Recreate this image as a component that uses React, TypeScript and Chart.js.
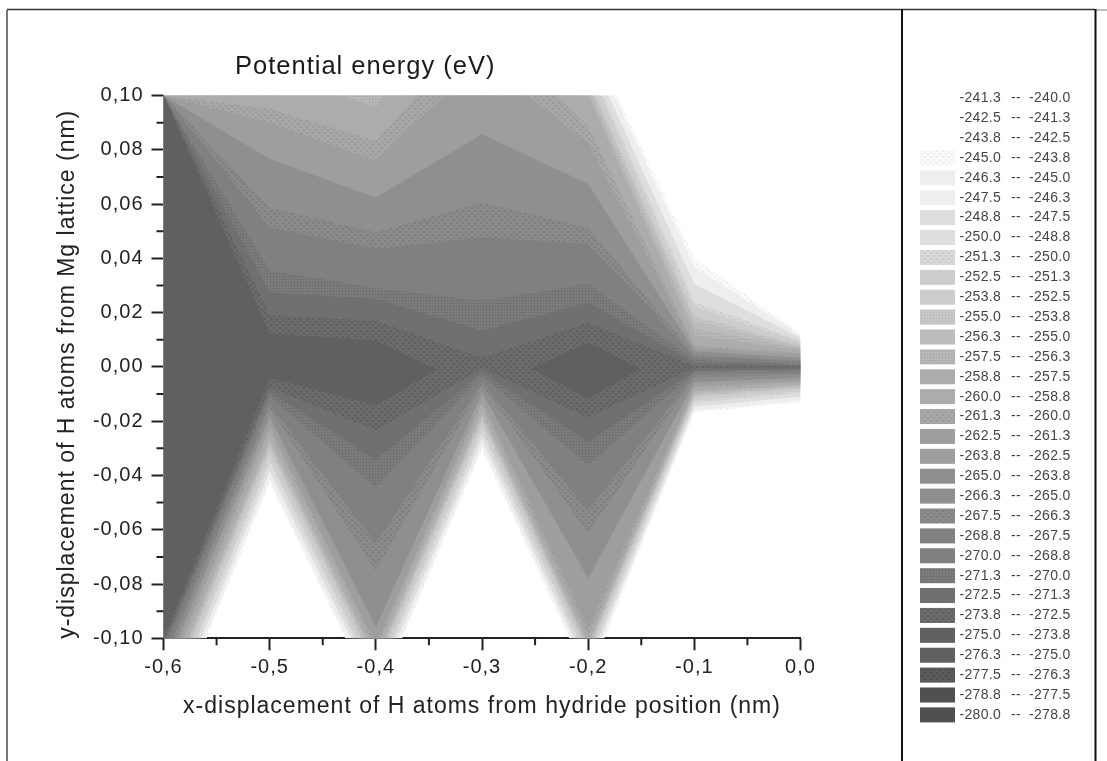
import React, { useEffect, useRef } from "react";
import { Chart, registerables } from "chart.js";

Chart.register(...registerables);

const xColumns = [-0.6, -0.5, -0.4, -0.3, -0.2, -0.1, 0];

// Energy (eV) read along each x column, above y = 0
const upY06 = [0.1, 0.1001];
const upE06 = [-273.8, -230];
const upY05 = [0.0122, 0.019, 0.0274, 0.0355, 0.0513, 0.0586, 0.0766, 0.09, 0.095, 0.1, 0.22];
const upE05 = [-273.8, -272.5, -271.3, -270, -267.5, -266.3, -263.8, -261.3, -260, -259, -238];
const upY04 = [0.0097, 0.017, 0.025, 0.029, 0.0435, 0.0495, 0.0624, 0.076, 0.0833, 0.0957, 0.1, 0.2];
const upE04 = [-273.8, -272.5, -271.3, -270, -267.5, -266.3, -263.8, -261.3, -260, -257.5, -256.7, -238];
const upY03 = [-0.009, 0, 0.0134, 0.0244, 0.0477, 0.0605, 0.0857, 0.1, 0.35];
const upE03 = [-273.8, -272.9, -271.3, -270, -267.5, -266.3, -263.8, -262.6, -238];
const upY02 = [0.009, 0.0163, 0.0237, 0.0305, 0.0453, 0.0513, 0.0674, 0.0825, 0.0888, 0.1, 0.1225];
const upE02 = [-273.8, -272.5, -271.3, -270, -267.5, -266.3, -263.8, -261.3, -260, -257.6, -243.8];
const upY01 = [-0.011, 0, 0.0015, 0.0025, 0.0045, 0.0085, 0.017, 0.024, 0.04];
const upE01 = [-273.8, -272.8, -271.3, -270, -266.3, -259, -255, -250, -243.8];
const upY00 = [-0.004, 0, 0.0024, 0.006, 0.0097, 0.0122];
const upE00 = [-273.8, -272.8, -266, -258, -250, -243.8];

// Energy (eV) read along each x column, below y = 0
const lowY06 = [-0.1, -0.139];
const lowE06 = [-273.8, -243.8];
const lowY05 = [-0.004, -0.0076, -0.043];
const lowE05 = [-273.8, -272.5, -243.8];
const lowY04 = [-0.0142, -0.0234, -0.0344, -0.0444, -0.065, -0.075, -0.0958, -0.1, -0.123];
const lowE04 = [-273.8, -272.5, -271.3, -270, -267.5, -266.3, -263.8, -263.3, -243.8];
const lowY03 = [0.009, 0, -0.002, -0.004, -0.0306];
const lowE03 = [-273.8, -272.9, -271.3, -269, -243.8];
const lowY02 = [-0.0117, -0.0187, -0.0278, -0.0363, -0.0528, -0.0613, -0.0779, -0.0963, -0.0995, -0.115];
const lowE02 = [-273.8, -272.5, -271.3, -270, -267.5, -266.3, -263.8, -261.3, -260, -243.8];
const lowY01 = [0.011, 0, -0.0015, -0.0025, -0.005, -0.0087, -0.0167];
const lowE01 = [-273.8, -272.8, -271.3, -268, -265, -258, -243.8];
const lowY00 = [0.004, 0, -0.0048, -0.0085, -0.0131];
const lowE00 = [-273.8, -272.8, -262, -252, -243.8];

const upTables = [[upY06, upE06], [upY05, upE05], [upY04, upE04], [upY03, upE03], [upY02, upE02], [upY01, upE01], [upY00, upE00]];
const lowTables = [[lowY06, lowE06], [lowY05, lowE05], [lowY04, lowE04], [lowY03, lowE03], [lowY02, lowE02], [lowY01, lowE01], [lowY00, lowE00]];

// Legend: band limits, top row first
const bandLow = ["-241.3","-242.5","-243.8","-245.0","-246.3","-247.5","-248.8","-250.0","-251.3","-252.5","-253.8","-255.0","-256.3","-257.5","-258.8","-260.0","-261.3","-262.5","-263.8","-265.0","-266.3","-267.5","-268.8","-270.0","-271.3","-272.5","-273.8","-275.0","-276.3","-277.5","-278.8","-280.0"];
const bandHigh = ["-240.0","-241.3","-242.5","-243.8","-245.0","-246.3","-247.5","-248.8","-250.0","-251.3","-252.5","-253.8","-255.0","-256.3","-257.5","-258.8","-260.0","-261.3","-262.5","-263.8","-265.0","-266.3","-267.5","-268.8","-270.0","-271.3","-272.5","-273.8","-275.0","-276.3","-277.5","-278.8"];
// Gray level of each band, in the same order
const bandGray = [255,255,255,247,238,238,222,222,213,205,205,196,188,180,172,172,164,158,158,143,143,135,128,128,120,112,104,96,96,88,80,80];
const dottedBands = ["-245.0", "-251.3", "-261.3", "-267.5", "-273.8", "-277.5"];
const gridBands = ["-255.0", "-257.5", "-271.3"];

const FONT = "'Liberation Sans', Arial, sans-serif";

function makePattern(g: number, kind: string) {
  const css = (v: number) => `rgb(${v},${v},${v})`;
  if (kind === "solid") return css(g);
  const c = document.createElement("canvas");
  const size = kind === "dot" ? 6 : 3;
  c.width = size;
  c.height = size;
  const x = c.getContext("2d")!;
  if (kind === "dot") {
    x.fillStyle = css(Math.min(255, g + 3));
    x.fillRect(0, 0, size, size);
    x.fillStyle = css(Math.max(0, g - 10));
    x.fillRect(0, 0, 2, 2);
    x.fillRect(3, 3, 2, 2);
  } else {
    x.fillStyle = css(Math.min(255, g + 6));
    x.fillRect(0, 0, size, size);
    x.fillStyle = css(Math.max(0, g - 5));
    x.fillRect(0, 0, 1, size);
    x.fillRect(0, 0, size, 1);
  }
  return x.createPattern(c, "repeat")!;
}
function bandFill(label: string) {
  const g = bandGray[bandLow.indexOf(label)];
  if (dottedBands.includes(label)) return makePattern(g, "dot");
  if (gridBands.includes(label)) return makePattern(g, "grid");
  return makePattern(g, "solid");
}

function lookup(table: number[][], level: number) {
  const [ys, es] = table;
  if (level <= es[0]) return ys[0];
  for (let i = 1; i < es.length; i++) {
    if (level <= es[i]) {
      const t = (level - es[i - 1]) / (es[i] - es[i - 1]);
      return ys[i - 1] + t * (ys[i] - ys[i - 1]);
    }
  }
  return ys[ys.length - 1];
}

// The two edges of the region where the energy lies below a level
function contour(level: number) {
  const up: { x: number; y: number }[] = [];
  const low: { x: number; y: number }[] = [];
  const u = xColumns.map((_, i) => lookup(upTables[i], level));
  const l = xColumns.map((_, i) => lookup(lowTables[i], level));
  xColumns.forEach((x, i) => {
    const open = u[i] >= l[i];
    const mid = (u[i] + l[i]) / 2;
    up.push({ x, y: open ? u[i] : mid });
    low.push({ x, y: open ? l[i] : mid });
    if (i < xColumns.length - 1) {
      const w0 = u[i] - l[i];
      const w1 = u[i + 1] - l[i + 1];
      if (w0 * w1 < 0) {
        const t = w0 / (w0 - w1);
        const cx = x + t * (xColumns[i + 1] - x);
        const cy = u[i] + t * (u[i + 1] - u[i]);
        up.push({ x: cx, y: cy });
        low.push({ x: cx, y: cy });
      }
    }
  });
  return { up, low };
}

const comma = (v: number, digits: number) => {
  const r = Math.abs(v) < 1e-9 ? 0 : v;
  return r.toFixed(digits).replace(".", ",");
};

const pagePlugin = {
  id: "page",
  beforeDraw(chart: any) {
    const c = chart.ctx;
    c.save();
    c.fillStyle = "#ffffff";
    c.fillRect(0, 0, chart.width, chart.height);
    c.strokeStyle = "#777777";
    c.lineWidth = 2;
    c.beginPath();
    c.moveTo(7, 761);
    c.lineTo(7, 10);
    c.stroke();
    c.strokeStyle = "#333333";
    c.lineWidth = 1.5;
    c.beginPath();
    c.moveTo(7, 9.5);
    c.lineTo(1095, 9.5);
    c.stroke();
    c.strokeStyle = "#aaaaaa";
    c.beginPath();
    c.moveTo(1096, 10);
    c.lineTo(1107, 10);
    c.stroke();
    c.strokeStyle = "#111111";
    c.lineWidth = 2;
    c.beginPath();
    c.moveTo(902, 9);
    c.lineTo(902, 761);
    c.moveTo(1095.5, 9);
    c.lineTo(1095.5, 761);
    c.stroke();
    c.restore();
    c.letterSpacing = "1px";
  },
  afterLayout(chart: any) {
    chart.titleBlock.left = 235;
  },
  afterDatasetsDraw(chart: any) {
    const c = chart.ctx;
    const xs = chart.scales.x;
    const ys = chart.scales.y;
    c.save();
    c.strokeStyle = "#222222";
    c.lineWidth = 2;
    c.beginPath();
    for (let v = -0.55; v < 0; v += 0.1) {
      const p = xs.getPixelForValue(v);
      c.moveTo(p, xs.top);
      c.lineTo(p, xs.top + 7);
    }
    for (let v = -0.09; v < 0.1; v += 0.02) {
      const p = ys.getPixelForValue(v);
      c.moveTo(ys.right, p);
      c.lineTo(ys.right - 7, p);
    }
    c.stroke();
    // legend panel
    bandLow.forEach((low, i) => {
      const y = 98.3 + i * 19.89;
      if (bandGray[i] < 255) {
        c.fillStyle = bandFill(low);
        c.fillRect(920, y - 7.5, 35, 15);
      }
      c.fillStyle = "#444444";
      c.font = `14px ${FONT}`;
      c.letterSpacing = "0.3px";
      c.textBaseline = "middle";
      c.textAlign = "left";
      c.fillText(low, 959.5, y);
      c.fillText("--", 1011, y);
      c.fillText(bandHigh[i], 1029, y);
    });
    c.restore();
  },
};

export default function App() {
  const ref = useRef<HTMLCanvasElement>(null);
  useEffect(() => {
    document.body.style.margin = "0";
    document.body.style.background = "#fff";
    const datasets: any[] = [];
    // darkest first: the first dataset is painted last, on top
    const painted = bandLow.map((low, i) => ({ low, high: parseFloat(bandHigh[i]) }))
      .filter((b) => b.high <= -243.8 && b.high >= -273.8)
      .reverse();
    painted.forEach((b) => {
      const { up, low } = contour(b.high);
      const fill = bandFill(b.low);
      datasets.push({
        label: `${b.low} -- ${b.high.toFixed(1)}`,
        data: up,
        parsing: false,
        borderWidth: 0,
        pointRadius: 0,
        tension: 0,
        backgroundColor: fill,
        fill: "+1",
      });
      datasets.push({
        label: `${b.low} lower edge`,
        data: low,
        parsing: false,
        borderWidth: 0,
        pointRadius: 0,
        tension: 0,
        backgroundColor: fill,
        fill: false,
      });
    });
    const chart = new Chart(ref.current!, {
      type: "line",
      data: { datasets },
      plugins: [pagePlugin],
      options: {
        responsive: false,
        animation: false,
        layout: { padding: { left: 0, right: 306.5, top: 0, bottom: 0 } },
        plugins: {
          legend: { display: false },
          tooltip: { enabled: false },
          title: {
            display: true,
            text: "Potential energy (eV)",
            align: "start",
            color: "#1a1a1a",
            font: { family: FONT, size: 25.5, weight: "normal" },
            padding: { top: 51.5, bottom: 13.4 },
          },
        },
        scales: {
          x: {
            type: "linear",
            min: -0.6,
            max: 0,
            afterFit(s: any) { s.height = 122.7; },
            grid: { drawOnChartArea: false, tickLength: 12, tickWidth: 2, tickColor: "#222222" },
            border: { color: "#222222", width: 2 },
            ticks: {
              stepSize: 0.1,
              color: "#222222",
              padding: 5,
              maxRotation: 0,
              font: { family: FONT, size: 20 },
              callback: (v: any) => comma(Number(v), 1),
            },
            title: {
              display: true,
              text: "x-displacement of H atoms from hydride position (nm)",
              color: "#222222",
              font: { family: FONT, size: 23 },
              padding: { top: 0, bottom: 40.5 },
            },
          },
          y: {
            type: "linear",
            min: -0.1,
            max: 0.1,
            afterFit(s: any) { s.width = 163.5; },
            grid: { drawOnChartArea: false, tickLength: 12, tickWidth: 2, tickColor: "#222222" },
            border: { color: "#222222", width: 2 },
            ticks: {
              stepSize: 0.02,
              color: "#222222",
              padding: 8,
              font: { family: FONT, size: 20 },
              callback: (v: any) => comma(Number(v), 2),
            },
            title: {
              display: true,
              text: "y-displacement of H atoms from Mg lattice (nm)  ",
              color: "#222222",
              font: { family: FONT, size: 23 },
              padding: { top: 54.2, bottom: 0 },
            },
          },
        },
      } as any,
    });
    return () => chart.destroy();
  }, []);
  return <canvas ref={ref} width={1107} height={761} style={{ display: "block", width: 1107, height: 761 }} />;
}
